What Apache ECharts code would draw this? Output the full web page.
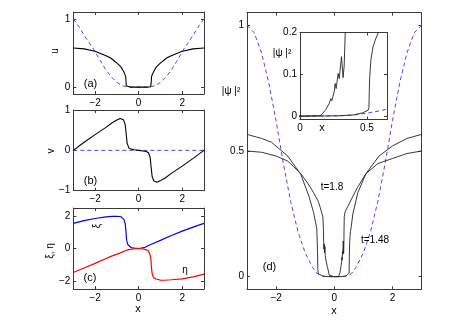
<!DOCTYPE html>
<html><head><meta charset="utf-8">
<script src="https://cdn.jsdelivr.net/npm/echarts@6/dist/echarts.min.js"></script>
<style>html,body{margin:0;padding:0;background:#fff}#c{width:463px;height:327px}</style>
</head><body><div id="c"></div>
<script>
// ---- panel (a): u ----
const xU = [-3,-2.5,-2,-1.5,-1.3,-1.1,-0.92,-0.8,-0.69,-0.62,-0.59,-0.58,-0.57,-0.55,-0.4,0,0.4,0.55,0.57,0.58,0.59,0.62,0.69,0.8,0.92,1.1,1.3,1.5,2,2.5,3];
const uVal = [0.573,0.56,0.525,0.46,0.43,0.38,0.33,0.29,0.23,0.18,0.15,0.08,0.02,0.005,0.001,0,0.001,0.005,0.02,0.08,0.15,0.18,0.23,0.29,0.33,0.38,0.43,0.46,0.525,0.56,0.573];
const xU0 = [-3,-2.75,-2.5,-2.25,-2,-1.75,-1.5,-1.25,-1,-0.75,-0.6,-0.4,0,0.4,0.6,0.75,1,1.25,1.5,1.75,2,2.25,2.5,2.75,3];
const u0Val = [1,0.89,0.76,0.64,0.52,0.38,0.25,0.15,0.07,0.02,0.01,0.002,0,0.002,0.01,0.02,0.07,0.15,0.25,0.38,0.52,0.64,0.76,0.89,1];
// ---- panel (b): v ----
const xV = [-3,-2.5,-2,-1.5,-1.2,-1,-0.85,-0.7,-0.62,-0.57,-0.53,-0.45,-0.35,-0.2,0,0.2,0.35,0.45,0.53,0.57,0.62,0.7,0.85,1,1.2,1.5,2,2.5,3];
const vVal = [0,0.2,0.39,0.57,0.69,0.75,0.79,0.76,0.65,0.4,0.18,0.06,0.03,0.015,0,-0.015,-0.03,-0.06,-0.18,-0.4,-0.65,-0.76,-0.79,-0.75,-0.69,-0.57,-0.39,-0.2,0];
const xV0 = [-3,3];
const v0Val = [0,0];
// ---- panel (c): xi, eta ----
const xXi = [-3,-2.5,-2,-1.5,-1.2,-1,-0.8,-0.68,-0.62,-0.59,-0.57,-0.55,-0.5,-0.45,-0.35,-0.2,0,0.25,0.5,1,1.5,2,2.5,3];
const xiVal = [1.55,1.72,1.85,1.95,1.98,1.99,1.95,1.8,1.55,1.2,0.8,0.5,0.25,0.14,0.06,0.02,0,0.05,0.22,0.5,0.8,1.07,1.32,1.55];
const xEta = [-3,-2.5,-2,-1.5,-1.3,-0.84,-0.5,-0.25,0,0.2,0.35,0.45,0.5,0.55,0.57,0.59,0.62,0.68,0.8,1,1.2,1.5,2,2.5,3];
const etaVal = [-1.48,-1.2,-0.92,-0.62,-0.5,-0.27,-0.08,-0.02,0,-0.03,-0.08,-0.14,-0.25,-0.5,-0.8,-1.2,-1.55,-1.8,-1.88,-1.95,-1.96,-1.93,-1.87,-1.75,-1.58];
// ---- panel (d): |psi|^2 ----
const xD = [-3,-2.75,-2.5,-2.25,-2,-1.75,-1.5,-1.25,-1,-0.75,-0.6,-0.5,-0.4,-0.3,0,0.3,0.4,0.5,0.55,0.6,0.65,0.75,1,1.25,1.5,1.75,2,2.25,2.5,2.75,3];
const dVal = [1.0,0.97,0.89,0.77,0.62,0.45,0.3,0.18,0.095,0.038,0.015,0.007,0.003,0.001,0,0.001,0.003,0.007,0.01,0.013,0.017,0.038,0.095,0.18,0.3,0.45,0.62,0.77,0.89,0.97,1.0];
const xN = [-3,-2.5,-2,-1.6,-1.15,-0.9,-0.71,-0.55,-0.48,-0.42,-0.39,-0.375,-0.365,-0.355,-0.345,-0.335,-0.32,-0.31,-0.295,-0.285,-0.27,-0.255,-0.24,-0.215,-0.19,-0.17,-0.15,0,0.15,0.168,0.193,0.218,0.23,0.238,0.255,0.263,0.27,0.285,0.293,0.31,0.322,0.33,0.338,0.345,0.38,0.47,0.64,0.8,1.09,1.5,2,2.5,3];
const nVal = [0.5,0.495,0.48,0.46,0.41,0.37,0.334,0.3,0.275,0.25,0.235,0.2,0.14,0.11,0.13,0.095,0.12,0.085,0.09,0.065,0.07,0.05,0.04,0.03,0.015,0.006,0.001,0,0.001,0.006,0.016,0.03,0.042,0.037,0.058,0.078,0.066,0.102,0.09,0.142,0.092,0.12,0.2,0.24,0.26,0.28,0.32,0.355,0.41,0.45,0.47,0.49,0.5];
const xW = [-3,-2.5,-2.16,-1.6,-1.15,-0.87,-0.71,-0.6,-0.575,-0.565,-0.55,-0.5,-0.4,-0.3,-0.2,0,0.2,0.3,0.405,0.468,0.51,0.515,0.52,0.53,0.545,0.56,0.585,0.64,0.81,1.09,1.54,2,2.5,3];
const wVal = [0.566,0.55,0.535,0.48,0.407,0.32,0.255,0.19,0.1,0.03,0.012,0.006,0.003,0.001,0.0005,0,0.0005,0.001,0.003,0.008,0.0144,0.021,0.09,0.135,0.165,0.18,0.2,0.25,0.334,0.41,0.48,0.52,0.55,0.566];
// ---- tick values ----
const xTicks = [-2,0,2];
const aTicks = [0,1];
const bTicks = [-1,0,1];
const cTicks = [-2,0,2];
const dTicks = [0,0.5,1];
const insetXTicks = [0,0.5];
const insetYTicks = [0,0.1,0.2];

const FONT = '"Liberation Sans", Arial, sans-serif';
const AX = '#3a3a3a';
const BLUE_D = '#4646ff';

const grids = [
  {left:73.3, top:12, width:130.7, height:82},
  {left:73.3, top:110, width:130.7, height:80.7},
  {left:73.3, top:208, width:130.7, height:81},
  {left:247, top:12.7, width:174.5, height:276.6},
  {left:300, top:32.5, width:87, height:87, show:true, backgroundColor:'#fff', borderWidth:0}
];
const ranges = [
  {x:[-3,3], y:[-0.1,1.1], xt:xTicks, yt:aTicks},
  {x:[-3,3], y:[-1,1], xt:xTicks, yt:bTicks},
  {x:[-3,3], y:[-2.5,2.5], xt:xTicks, yt:cTicks},
  {x:[-3,3], y:[-0.05,1.05], xt:xTicks, yt:dTicks},
  {x:[0,0.65], y:[-0.008,0.2], xt:insetXTicks, yt:insetYTicks}
];
function fmt(v){ return (v<0?'\u2212':'') + Math.abs(v); }
const xAxes = [], yAxes = [];
ranges.forEach((r, gi) => {
  [['bottom',true],['top',false]].forEach(([pos,lab]) => {
    xAxes.push({type:'value', gridIndex:gi, position:pos, min:r.x[0], max:r.x[1],
      axisLine:{show:true,onZero:false,lineStyle:{color:AX,width:1}},
      axisTick:{show:true,inside:true,length:3,customValues:r.xt,lineStyle:{color:AX}},
      axisLabel:{show:lab,customValues:r.xt,formatter:fmt,margin:4,color:'#000',fontSize:10,fontFamily:FONT},
      splitLine:{show:false}});
  });
  [['left',true],['right',false]].forEach(([pos,lab]) => {
    yAxes.push({type:'value', gridIndex:gi, position:pos, min:r.y[0], max:r.y[1],
      axisLine:{show:true,onZero:false,lineStyle:{color:AX,width:1}},
      axisTick:{show:true,inside:true,length:3,customValues:r.yt,lineStyle:{color:AX}},
      axisLabel:{show:lab,customValues:r.yt,formatter:fmt,margin:3,color:'#000',fontSize:10,fontFamily:FONT},
      splitLine:{show:false}});
  });
});
function pairs(xs, ys){ return xs.map((x,i)=>[x, ys[i]]); }
function line(gi, xs, ys, color, width, type){
  return {type:'line', xAxisIndex:gi*2, yAxisIndex:gi*2, data:pairs(xs,ys), showSymbol:false,
    symbol:'none', clip:true, animation:false,
    lineStyle:{color:color, width:width, type:type||'solid'}};
}
const series = [
  line(0, xU0, u0Val, BLUE_D, 1, [4,3]),
  line(0, xU, uVal, '#000', 1.1),
  line(1, xV0, v0Val, BLUE_D, 1, [4,3]),
  line(1, xV, vVal, '#000', 1.1),
  line(2, xXi, xiVal, '#0000ff', 1.2),
  line(2, xEta, etaVal, '#ff0000', 1.2),
  line(3, xD, dVal, BLUE_D, 1, [4,3]),
  line(3, xN, nVal, '#222', 0.9),
  line(3, xW, wVal, '#222', 0.9),
  line(4, xD, dVal, BLUE_D, 1, [4,3]),
  line(4, xN, nVal, '#222', 0.9),
  line(4, xW, wVal, '#222', 0.9)
];
function txt(t, x, y, size, rot){
  return {type:'text', x:x, y:y, rotation:rot||0, z:100,
    style:{text:t, fill:'#000', font: size+'px '+FONT, align:'center', verticalAlign:'middle'}};
}
const R = Math.PI/2;
const graphics = [
  txt('(a)', 90.5, 84, 11), txt('(b)', 90.5, 181, 11), txt('(c)', 90, 278, 11), txt('(d)', 269.5, 267, 11),
  txt('u', 55, 51, 10, R), txt('v', 51, 151, 10, R), txt('\u03be, \u03b7', 50, 251, 10, R),
  txt('\u03be', 97, 226, 10, R), txt('\u03b7', 185, 270, 10),
  txt('x', 138, 309, 11), txt('x', 334, 311, 11),
  txt('t=1.8', 332, 187, 10), txt('t=1.48', 375, 240, 10),
  txt('|\u03c8 |\u00b2', 231, 91, 10), txt('|\u03c8 |\u00b2', 282, 53, 10),
  txt('x', 322, 128, 11)
];
const chart = echarts.init(document.getElementById('c'), null, {renderer:'canvas'});
chart.setOption({animation:false, backgroundColor:'#fff', grid:grids, xAxis:xAxes, yAxis:yAxes, series:series, graphic:graphics});
</script></body></html>
